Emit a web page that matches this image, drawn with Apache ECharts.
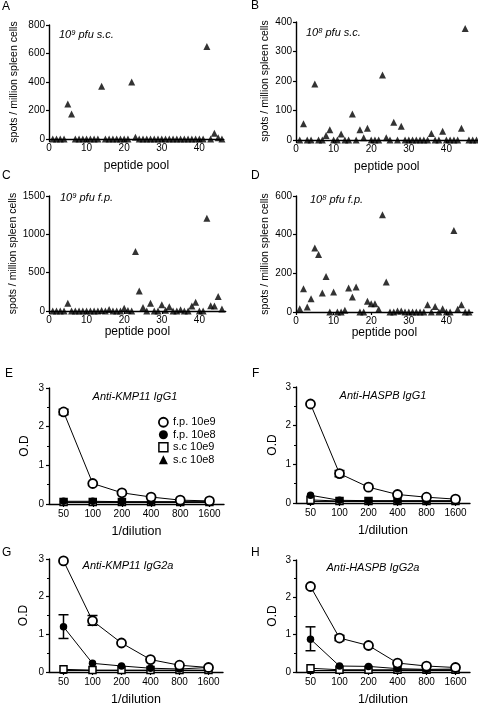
<!DOCTYPE html>
<html><head><meta charset="utf-8">
<script src="https://cdn.jsdelivr.net/npm/echarts@6/dist/echarts.min.js"></script>
<style>html,body{margin:0;padding:0;background:#fff}#c{width:478px;height:707px}</style>
</head><body><div id="c"></div>
<script>
const FONT = "'Liberation Sans', Arial, sans-serif";

// ---- ELISPOT panels (A-D): spots / million spleen cells per peptide pool ----
const poolsA = [1,2,3,4,5,6,7,8,9,10,11,12,13,14,15,16,17,18,19,20,21,22,23,24,25,26,27,28,29,30,31,32,33,34,35,36,37,38,39,40,41,42,43,44,45,46];
const spotsA = [0,0,0,0,245,175,0,0,0,0,0,0,0,370,0,0,0,0,0,0,0,400,12,0,0,0,0,0,0,0,0,0,0,0,0,0,0,0,0,0,0,650,0,40,8,0];
const poolsB = [1,2,3,4,5,6,7,8,9,10,11,12,13,14,15,16,17,18,19,20,21,22,23,24,25,26,27,28,29,30,31,32,33,34,35,36,37,38,39,40,41,42,43,44,45,46,47,48];
const spotsB = [0,55,0,0,190,0,0,15,35,0,0,20,0,0,88,0,35,8,40,0,0,0,220,8,0,60,0,47,0,0,0,0,0,0,0,22,0,0,30,0,0,0,0,40,378,0,0,0];
const poolsC = [1,2,3,4,5,6,7,8,9,10,11,12,13,14,15,16,17,18,19,20,21,22,23,24,25,26,27,28,29,30,31,32,33,34,35,36,37,38,39,40,41,42,43,44,45,46];
const spotsC = [0,0,0,0,100,0,0,0,0,0,0,0,0,5,0,20,0,0,0,35,5,0,775,260,45,0,100,0,0,80,10,55,0,0,15,0,0,65,115,0,0,1210,70,65,190,25];
const poolsD = [1,2,3,4,5,6,7,8,9,10,11,12,13,14,15,16,17,18,19,20,21,22,23,24,25,26,27,28,29,30,31,32,33,34,35,36,37,38,39,40,41,42,43,44,45,46];
const spotsD = [17,120,26,69,331,297,98,184,0,103,0,0,9,124,78,129,0,0,55,43,43,14,503,155,0,0,5,5,0,0,0,0,0,0,38,0,29,0,17,0,0,422,14,38,0,0];
const poolTicks = [0,10,20,30,40];

// ---- ELISA panels (E-H): O.D vs 1/dilution ----
const dilutions = ['50','100','200','400','800','1600'];
const seriesNames = ['f.p. 10e9','f.p. 10e8','s.c 10e9','s.c 10e8'];
const E_fp9 = [2.38,0.53,0.29,0.18,0.10,0.08];
const E_fp8 = [0.07,0.07,0.06,0.06,0.06,0.06];
const E_sc9 = [0.05,0.05,0.05,0.05,0.05,0.05];
const E_sc8 = [0.04,0.04,0.04,0.04,0.04,0.04];
const F_fp9 = [2.56,0.76,0.41,0.22,0.15,0.10];
const F_fp8 = [0.20,0.07,0.06,0.06,0.06,0.06];
const F_sc9 = [0.08,0.05,0.05,0.05,0.05,0.05];
const F_sc8 = [0.04,0.04,0.04,0.04,0.04,0.04];
const G_fp9 = [2.95,1.36,0.77,0.33,0.18,0.12];
const G_fp8 = [1.20,0.23,0.16,0.10,0.08,0.12];
const G_sc9 = [0.07,0.05,0.05,0.05,0.05,0.05];
const G_sc8 = [0.04,0.04,0.04,0.04,0.04,0.04];
const H_fp9 = [2.29,0.91,0.71,0.24,0.16,0.12];
const H_fp8 = [0.88,0.16,0.15,0.09,0.07,0.08];
const H_sc9 = [0.10,0.06,0.06,0.06,0.06,0.06];
const H_sc8 = [0.04,0.04,0.04,0.04,0.04,0.04];
// error bars: dilution, low, high
const E_err = [{dil:'50', low:2.31, high:2.45}];
const F_err = [{dil:'100', low:0.68, high:0.84}];
const G_err = [{dil:'100', low:1.24, high:1.50}, {dil:'50', low:0.89, high:1.52}];
const H_err = [{dil:'100', low:0.84, high:0.98}, {dil:'50', low:0.57, high:1.21}];

const grids = [
  {left:49, top:25, width:174.8, height:114},
  {left:296, top:22, width:181.6, height:118},
  {left:49, top:196, width:176.7, height:115},
  {left:296, top:196, width:176.7, height:116},
  {left:49, top:388, width:175, height:116},
  {left:296, top:387, width:174, height:116},
  {left:49, top:559, width:174, height:116},
  {left:296, top:560, width:174, height:114}
];

const axisLine = {show:true, onZero:false, lineStyle:{color:'#000', width:1.4}};
const tickStyle = {color:'#000', width:1.2};
const lbl = {color:'#000', fontSize:10, fontFamily:FONT, formatter: v => String(v)};

const xAxes = [], yAxes = [], series = [];
const poolSets = [poolsA, poolsB, poolsC, poolsD];
const spotSets = [spotsA, spotsB, spotsC, spotsD];
const poolMax = [46.5, 48.3, 47, 47];
const spotMax = [800,400,1500,600];
const spotInt = [200,100,500,200];
const xNameGap = [21,21,15,15];
const yNameGap = [29,25,30,25];
for (let i = 0; i < 4; i++) {
  xAxes.push({type:'value', gridIndex:i, min:0, max:poolMax[i], interval:10,
    axisLine, axisTick:{show:true, length:3, lineStyle:tickStyle, customValues:poolTicks},
    axisLabel:Object.assign({}, lbl, {margin:4, customValues:poolTicks}), splitLine:{show:false},
    name:'peptide pool', nameLocation:'middle', nameGap:xNameGap[i],
    nameTextStyle:{fontSize:12, color:'#000', fontFamily:FONT}});
  yAxes.push({type:'value', gridIndex:i, min:0, max:spotMax[i], interval:spotInt[i],
    axisLine, axisTick:{show:true, length:3, lineStyle:tickStyle},
    axisLabel:Object.assign({}, lbl, {margin:4}), splitLine:{show:false},
    name:'spots / million spleen cells', nameLocation:'middle', nameGap:yNameGap[i], nameRotate:90,
    nameTextStyle:{fontSize:10.5, color:'#000', fontFamily:FONT}});
  series.push({type:'scatter', xAxisIndex:i, yAxisIndex:i, symbol:'triangle', symbolSize:7,
    itemStyle:{color:'#000'}, clip:false, silent:true,
    data: poolSets[i].map((p, k) => [p, spotSets[i][k]])});
}

const elisa = [
  [E_fp9,E_fp8,E_sc9,E_sc8,E_err],
  [F_fp9,F_fp8,F_sc9,F_sc8,F_err],
  [G_fp9,G_fp8,G_sc9,G_sc8,G_err],
  [H_fp9,H_fp8,H_sc9,H_sc8,H_err]
];
const odNameGap = [18,17,19,17];
const symStyles = [
  {symbol:'circle', symbolSize:9, itemStyle:{color:'#fff', borderColor:'#000', borderWidth:1.8}, z:6},
  {symbol:'circle', symbolSize:7.5, itemStyle:{color:'#000', borderColor:'#000', borderWidth:0}, z:5},
  {symbol:'rect', symbolSize:7, itemStyle:{color:'#fff', borderColor:'#000', borderWidth:1.5}, z:4},
  {symbol:'triangle', symbolSize:7, itemStyle:{color:'#000'}, z:3}
];
for (let j = 0; j < 4; j++) {
  const gi = 4 + j;
  xAxes.push({type:'category', gridIndex:gi, data:dilutions, boundaryGap:true,
    axisLine, axisTick:{show:true, alignWithLabel:true, length:3, lineStyle:tickStyle},
    axisLabel:{margin:5, interval:0, color:'#000', fontSize:10, fontFamily:FONT},
    name:'1/dilution', nameLocation:'middle', nameGap:21,
    nameTextStyle:{fontSize:12.5, color:'#000', fontFamily:FONT}});
  yAxes.push({type:'value', gridIndex:gi, min:0, max:3, interval:1,
    axisLine, axisTick:{show:true, length:3, lineStyle:tickStyle},
    minorTick:{show:true, splitNumber:2, length:2, lineStyle:tickStyle},
    axisLabel:Object.assign({}, lbl, {margin:5}), splitLine:{show:false},
    name:'O.D', nameLocation:'middle', nameGap:odNameGap[j], nameRotate:90,
    nameTextStyle:{fontSize:12, color:'#000', fontFamily:FONT}});
  const sets = elisa[j];
  [3,2,1,0].forEach(s => {
    series.push(Object.assign({type:'line', name:seriesNames[s], xAxisIndex:gi, yAxisIndex:gi,
      data:sets[s], showAllSymbol:true, clip:false, silent:true,
      lineStyle:{color:'#000', width:1}}, symStyles[s]));
  });
  series.push({type:'custom', xAxisIndex:gi, yAxisIndex:gi, silent:true, z:5.5, clip:false,
    data: sets[4].map(e => [dilutions.indexOf(e.dil), e.low, e.high]),
    renderItem: (params, api) => {
      const x = api.value(0);
      const lo = api.coord([x, api.value(1)]);
      const hi = api.coord([x, api.value(2)]);
      const w = 5, st = {stroke:'#000', lineWidth:1.5};
      return {type:'group', children:[
        {type:'line', shape:{x1:lo[0], y1:lo[1], x2:hi[0], y2:hi[1]}, style:st},
        {type:'line', shape:{x1:lo[0]-w, y1:lo[1], x2:lo[0]+w, y2:lo[1]}, style:st},
        {type:'line', shape:{x1:hi[0]-w, y1:hi[1], x2:hi[0]+w, y2:hi[1]}, style:st}
      ]};
    }});
}

function txt(x, y, text, font, align) {
  return {type:'text', x, y, silent:true, style:{text, fill:'#000', font, textAlign:align||'left', textVerticalAlign:'middle'}};
}
function supTxt(x, y, exp, rest) {
  return {type:'text', x, y, silent:true, style:{
    text:'{a|10}{s|' + exp + '}{a|' + rest + '}', textVerticalAlign:'middle',
    rich:{a:{fontSize:11, fontStyle:'italic', fontFamily:FONT, color:'#000', lineHeight:13},
          s:{fontSize:7.5, fontStyle:'italic', fontFamily:FONT, color:'#000', lineHeight:8, verticalAlign:'top'}}}};
}
const letterFont = "12px " + FONT;
const italic = "italic 11px " + FONT;
const graphic = [
  txt(2, 7, 'A', letterFont), txt(251, 6, 'B', letterFont),
  txt(2, 176, 'C', letterFont), txt(251, 176, 'D', letterFont),
  txt(5, 374, 'E', letterFont), txt(252, 374, 'F', letterFont),
  txt(2, 553, 'G', letterFont), txt(251, 553, 'H', letterFont),
  supTxt(59, 35, '9', ' pfu s.c.'), supTxt(306, 33, '8', ' pfu s.c.'),
  supTxt(60, 198, '9', ' pfu f.p.'), supTxt(310, 200, '8', ' pfu f.p.'),
  txt(135, 397, 'Anti-KMP11 IgG1', italic, 'center'),
  txt(383, 396, 'Anti-HASPB IgG1', italic, 'center'),
  txt(128, 566, 'Anti-KMP11 IgG2a', italic, 'center'),
  txt(373, 568, 'Anti-HASPB IgG2a', italic, 'center')
];

const chart = echarts.init(document.getElementById('c'), null, {renderer:'canvas'});
chart.setOption({
  animation:false,
  backgroundColor:'#fff',
  textStyle:{fontFamily:FONT},
  grid:grids,
  xAxis:xAxes, yAxis:yAxes, series,
  graphic,
  legend:{left:158, top:416, orient:'vertical', itemGap:0, itemWidth:9, itemHeight:9,
    selectedMode:false, padding:0,
    textStyle:{fontSize:11, color:'#000', fontFamily:FONT, lineHeight:12.5},
    data:[
      {name:'f.p. 10e9', icon:'circle', itemStyle:{color:'#fff', borderColor:'#000', borderWidth:1.8}},
      {name:'f.p. 10e8', icon:'circle', itemStyle:{color:'#000', borderWidth:0}},
      {name:'s.c 10e9', icon:'rect', itemStyle:{color:'#fff', borderColor:'#000', borderWidth:1.5}},
      {name:'s.c 10e8', icon:'triangle', itemStyle:{color:'#000', borderWidth:0}}
    ]}
});
</script></body></html>
